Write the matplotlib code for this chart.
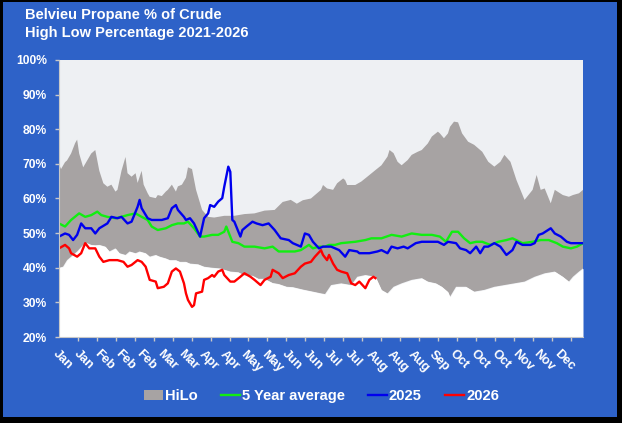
import numpy as np
import matplotlib
matplotlib.use('Agg')
import matplotlib.pyplot as plt
from matplotlib.patches import Rectangle, Patch
from matplotlib.lines import Line2D

plt.rcParams['font.family'] = ['Liberation Sans', 'DejaVu Sans']
plt.rcParams['font.weight'] = 'bold'

# x = trading day of the year (0 = first trading day in Jan), y = propane as % of crude

# HiLo band, upper edge (5 year high)
hi_day = [0, 1, 3, 4, 6, 8, 9, 10, 12, 14, 16, 18, 20, 22, 24, 26, 28, 29, 31, 33,
          34, 36, 38, 39, 41, 42, 44, 45, 48, 49, 51, 53, 54, 56, 58, 59, 61, 63, 64, 66,
          68, 71, 74, 77, 82, 87, 92, 97, 102, 107, 111, 115, 118, 121, 125, 128, 130, 131, 133, 136,
          138, 141, 142, 143, 147, 150, 153, 157, 160, 163, 164, 166, 168, 170, 173, 175, 178, 180, 183, 185,
          188, 189, 191, 193, 194, 196, 198, 200, 203, 206, 210, 213, 216, 219, 221, 224, 227, 231, 235, 237,
          239, 241, 244, 246, 250, 253, 255, 258, 260]
hi_pct = [70.0, 68.5, 70.5, 71.0, 73.0, 76.0, 77.0, 73.0, 69.0, 71.0, 73.0, 74.0, 68.0, 64.4, 63.4, 64.0, 62.0, 62.5, 68.0, 72.0,
          67.3, 66.3, 67.3, 64.5, 68.0, 64.0, 61.5, 60.5, 60.1, 61.0, 60.7, 62.0, 62.5, 64.0, 62.0, 63.5, 64.0, 66.0, 69.0, 68.5,
          62.5, 56.7, 54.7, 54.5, 55.0, 55.0, 55.5, 55.7, 56.5, 56.7, 59.0, 59.6, 58.5, 59.5, 60.0, 61.5, 62.5, 63.9, 62.9, 62.5,
          64.4, 65.8, 65.3, 63.9, 63.9, 64.9, 66.3, 68.2, 69.6, 72.1, 74.0, 73.1, 70.6, 69.6, 71.1, 72.6, 73.5, 74.0, 75.9, 77.9,
          79.3, 78.8, 77.4, 78.8, 80.7, 82.2, 82.0, 78.8, 76.4, 75.5, 73.5, 70.6, 69.2, 70.6, 72.6, 70.6, 65.3, 59.6, 62.5, 66.8,
          62.5, 62.9, 58.6, 62.5, 61.0, 60.5, 61.0, 61.5, 62.5]

# HiLo band, lower edge (5 year low)
lo_day = [0, 2, 4, 7, 9, 12, 14, 16, 18, 20, 23, 25, 28, 30, 33, 35, 38, 40, 43, 45,
          48, 50, 53, 55, 58, 60, 63, 65, 69, 72, 76, 80, 85, 89, 92, 96, 99, 102, 106, 109,
          113, 116, 121, 126, 130, 132, 135, 140, 145, 148, 152, 157, 160, 163, 166, 170, 175, 180, 183, 187,
          190, 193, 194, 197, 202, 206, 211, 216, 221, 226, 231, 236, 241, 246, 250, 253, 255, 258, 260]
lo_pct = [40.0, 40.3, 42.2, 43.7, 44.7, 46.6, 47.1, 46.6, 46.5, 46.6, 46.1, 44.7, 45.6, 44.2, 43.7, 44.7, 44.2, 44.7, 44.2, 43.2,
          43.7, 43.2, 42.7, 42.2, 42.2, 41.7, 41.7, 41.2, 41.0, 40.3, 40.0, 39.8, 38.9, 38.7, 37.8, 37.7, 36.8, 36.8, 35.6, 35.3,
          34.5, 34.4, 33.7, 33.1, 32.6, 32.4, 35.0, 35.5, 35.0, 37.4, 37.9, 37.4, 33.6, 32.6, 34.5, 35.5, 36.5, 37.0, 36.0, 35.5,
          34.5, 33.0, 31.6, 34.5, 34.5, 33.1, 33.6, 34.5, 35.0, 35.5, 36.0, 37.4, 38.4, 38.9, 37.4, 36.0, 37.4, 38.9, 39.8]

# 5 year average
avg_day = [0, 3, 6, 10, 13, 16, 19, 21, 24, 28, 31, 34, 38, 41, 44, 46, 49, 53, 56, 59,
           62, 64, 67, 70, 72, 76, 79, 82, 83, 86, 89, 92, 97, 102, 106, 109, 112, 117, 120, 124,
           126, 129, 132, 134, 137, 140, 147, 152, 155, 160, 165, 170, 175, 180, 185, 189, 192, 195, 198, 201,
           204, 207, 210, 214, 218, 222, 225, 230, 235, 239, 243, 247, 250, 254, 257, 260]
avg_pct = [52.8, 51.9, 53.8, 55.7, 54.7, 55.2, 56.2, 55.2, 54.7, 54.3, 54.7, 55.2, 55.7, 54.7, 53.8, 51.9, 50.9, 51.4, 52.3, 52.8,
           52.8, 53.3, 51.4, 49.0, 49.0, 49.5, 49.5, 50.4, 51.9, 47.5, 47.1, 46.1, 46.1, 45.6, 46.1, 44.7, 44.7, 44.7, 45.1, 46.6,
           45.6, 46.1, 46.1, 46.6, 46.6, 47.1, 47.5, 48.0, 48.5, 48.5, 49.5, 49.0, 49.9, 49.5, 49.5, 49.0, 47.5, 50.4, 50.4, 48.5,
           47.1, 47.5, 47.5, 46.6, 47.5, 48.0, 48.5, 47.1, 47.5, 48.0, 48.0, 47.1, 46.1, 45.6, 46.1, 47.1]

# 2025
y2025_day = [0, 3, 5, 7, 9, 11, 13, 16, 18, 20, 24, 26, 29, 31, 34, 36, 39, 40, 41, 44,
             46, 48, 51, 54, 56, 58, 59, 62, 63, 65, 67, 70, 72, 74, 75, 77, 79, 81, 82, 84,
             85, 86, 87, 90, 91, 93, 96, 98, 101, 104, 107, 110, 114, 116, 120, 122, 124, 126, 129, 131,
             135, 139, 142, 144, 148, 149, 154, 158, 160, 163, 165, 168, 171, 173, 177, 180, 184, 188, 191, 193,
             197, 199, 202, 204, 207, 209, 211, 213, 216, 219, 222, 225, 227, 230, 234, 236, 238, 240, 244, 246,
             249, 252, 254, 260]
y2025_pct = [49.0, 49.9, 49.5, 48.0, 49.5, 52.8, 51.4, 51.4, 49.9, 51.4, 52.8, 54.7, 54.3, 54.7, 52.8, 53.3, 57.6, 59.6, 57.2, 54.3,
             53.8, 53.8, 53.8, 54.3, 57.2, 58.1, 56.7, 54.7, 53.8, 54.3, 52.8, 49.0, 54.3, 55.7, 58.1, 57.6, 59.1, 60.1, 63.4, 69.2,
             67.7, 53.8, 53.3, 49.0, 50.9, 51.9, 53.3, 52.8, 52.3, 52.8, 50.9, 48.5, 48.0, 47.1, 46.1, 49.9, 49.5, 47.5, 45.6, 46.1,
             46.1, 45.1, 43.2, 45.1, 44.7, 44.2, 44.2, 44.7, 45.1, 44.2, 46.1, 45.6, 46.1, 45.6, 47.1, 47.5, 47.5, 47.5, 46.6, 47.5,
             47.1, 45.6, 45.1, 44.2, 46.1, 44.2, 46.1, 46.1, 47.1, 46.1, 43.7, 45.1, 47.5, 46.6, 46.6, 47.1, 49.5, 49.9, 51.4, 49.9,
             49.0, 47.5, 47.1, 47.1]

# 2026 (year to date)
y2026_day = [0, 3, 5, 6, 9, 11, 13, 15, 18, 20, 22, 25, 29, 32, 34, 36, 39, 41, 43, 45,
             48, 49, 52, 54, 56, 58, 60, 62, 63, 64, 66, 67, 68, 71, 72, 74, 76, 77, 79, 81,
             82, 85, 87, 90, 92, 95, 97, 100, 102, 105, 106, 109, 111, 114, 117, 120, 122, 125, 127, 130,
             131, 133, 134, 136, 138, 140, 143, 145, 147, 149, 152, 154, 156, 157]
y2026_pct = [45.6, 46.6, 45.6, 44.2, 43.2, 44.2, 47.1, 45.6, 45.6, 43.2, 41.7, 42.2, 42.2, 41.7, 40.3, 40.8, 42.2, 41.7, 40.3, 36.5,
             36.0, 34.1, 34.5, 35.5, 38.9, 39.8, 38.9, 35.5, 32.6, 30.7, 28.7, 29.2, 32.6, 33.1, 36.5, 37.0, 37.9, 37.4, 38.9, 39.4,
             37.9, 36.0, 36.0, 37.4, 38.4, 37.4, 36.5, 35.0, 36.5, 37.4, 39.4, 38.4, 37.0, 37.9, 38.4, 40.3, 41.2, 41.7, 43.2, 45.1,
             43.7, 42.2, 43.7, 41.2, 39.4, 38.9, 38.4, 35.5, 35.0, 36.0, 34.1, 36.5, 37.4, 37.0]

month_labels = ['Jan', 'Jan', 'Feb', 'Feb', 'Feb', 'Mar', 'Mar', 'Apr', 'Apr', 'May', 'May', 'Jun', 'Jun',
                'Jul', 'Jul', 'Aug', 'Aug', 'Aug', 'Sep', 'Oct', 'Oct', 'Oct', 'Nov', 'Nov', 'Dec']

gray = '#a7a3a3'
green = '#11ee11'
blue = '#0000ee'
red = '#ff0000'

fig = plt.figure(figsize=(6.22, 4.23), dpi=100)
fig.patch.set_facecolor('black')
fig.add_artist(Rectangle((3/622, 6/423), 614/622, 415/423, transform=fig.transFigure,
                         facecolor='#2e62c8', edgecolor='none', zorder=-10))

ax = fig.add_axes([59/622, 1-337/423, 524/622, 277/423])
ax.set_facecolor('#eef0f3')

# band: high forward, low backward
ax.fill(np.r_[hi_day, lo_day[::-1]], np.r_[hi_pct, lo_pct[::-1]], color=gray, lw=0)
ax.fill_between(lo_day, 20, lo_pct, color='white', lw=0)

ax.plot(avg_day, avg_pct, color=green, lw=1.7)
ax.plot(y2025_day, y2025_pct, color=blue, lw=1.7)
ax.plot(y2026_day, y2026_pct, color=red, lw=1.7)

ax.set_xlim(0, 260)
ax.set_ylim(20, 100)

# y axis
ax.set_yticks(range(20, 101, 10))
ax.set_yticklabels([f'{v}%' for v in range(20, 101, 10)])
ax.tick_params(axis='y', colors='#c8c8c8', labelcolor='white', length=3, width=1,
               pad=5.5, labelsize=8.7)

# x axis: tick marks and month labels have different spacing
ax.set_xticks(np.arange(28) * 9.4, minor=True)
ax.set_xticks(np.arange(25) * 10.36)
ax.set_xticklabels(month_labels)
ax.tick_params(axis='x', which='minor', colors='#c8c8c8', length=3, width=1)
ax.tick_params(axis='x', which='major', length=0, pad=8, labelcolor='white', labelsize=9.2)
plt.setp(ax.get_xticklabels(), rotation=-45, ha='left', va='top', rotation_mode='anchor')

for s in ['top', 'right']:
    ax.spines[s].set_visible(False)
for s in ['left', 'bottom']:
    ax.spines[s].set_color('#c8c8c8')

fig.text(25/622, 1-15/423, 'Belvieu Propane % of Crude', color='white',
         fontsize=10.5, fontweight='bold', va='center')
fig.text(25/622, 1-32.5/423, 'High Low Percentage 2021-2026', color='white',
         fontsize=10.5, fontweight='bold', va='center')

handles = [Patch(facecolor=gray, edgecolor='none'),
           Line2D([], [], color=green, lw=1.7),
           Line2D([], [], color=blue, lw=1.7),
           Line2D([], [], color=red, lw=1.7)]
leg = fig.legend(handles, ['HiLo', '5 Year average', '2025', '2026'],
                 loc='center', bbox_to_anchor=(0.517, 1-396/423), ncol=4, frameon=False,
                 prop={'weight': 'bold', 'size': 10.6}, labelcolor='white',
                 handlelength=1.25, handletextpad=0.15, columnspacing=1.6)

fig.savefig('out.png', dpi=100)
